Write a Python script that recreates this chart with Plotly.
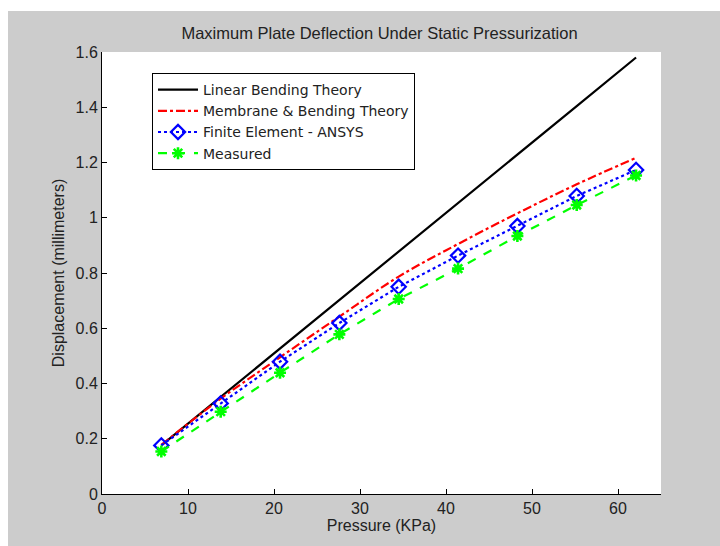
import plotly.graph_objects as go

pressure_kpa = [6.9, 13.8, 20.7, 27.6, 34.5, 41.4, 48.3, 55.2, 62.1]
linear_bending = [0.176, 0.351, 0.527, 0.702, 0.878, 1.053, 1.229, 1.404, 1.580]
membrane_bending = [0.178, 0.345, 0.495, 0.642, 0.787, 0.905, 1.016, 1.121, 1.217]
finite_element = [0.176, 0.328, 0.479, 0.619, 0.750, 0.863, 0.970, 1.079, 1.173]
measured = [0.154, 0.298, 0.439, 0.578, 0.706, 0.816, 0.934, 1.046, 1.153]

x_ticks = [0, 10, 20, 30, 40, 50, 60]
y_ticks = [0, 0.2, 0.4, 0.6, 0.8, 1.0, 1.2, 1.4, 1.6]
y_tick_text = ["0", "0.2", "0.4", "0.6", "0.8", "1", "1.2", "1.4", "1.6"]

FONT = "Liberation Sans, Arial, sans-serif"
LEG_FONT = "DejaVu Sans, Liberation Sans, sans-serif"
TXT = "#222222"

fig = go.Figure()
fig.add_trace(go.Scatter(x=pressure_kpa, y=linear_bending, mode="lines",
                         name="Linear Bending Theory",
                         line=dict(color="black", width=2.2)))
fig.add_trace(go.Scatter(x=pressure_kpa, y=membrane_bending, mode="lines",
                         name="Membrane & Bending Theory", line_shape="spline",
                         line=dict(color="#ff0000", width=2.2, dash="dashdot")))
fig.add_trace(go.Scatter(x=pressure_kpa, y=finite_element, mode="lines+markers",
                         name="Finite Element - ANSYS",
                         line=dict(color="#0000ff", width=2.2, dash="dot"),
                         marker=dict(symbol="diamond-open", size=11, color="#0000ff",
                                     line=dict(width=2.2, color="#0000ff"))))
fig.add_trace(go.Scatter(x=pressure_kpa, y=measured, mode="lines+markers",
                         name="Measured",
                         line=dict(color="#00ff00", width=2.2, dash="dash"),
                         marker=dict(symbol="asterisk-open", size=10, color="#00ff00",
                                     line=dict(width=2.6, color="#00ff00"))))

L, R, T, B = 102, 59, 52, 52
W, H = 720, 546
pw, ph = W - L - R, H - T - B

def px_x(p):
    return (p - L) / pw

def px_y(p):
    return (H - B - p) / ph

shapes = [
    dict(type="rect", xref="paper", yref="paper", x0=px_x(-2), x1=px_x(722),
         y0=px_y(11), y1=px_y(-2), fillcolor="white", line=dict(width=0), layer="below"),
    dict(type="rect", xref="paper", yref="paper", x0=px_x(-2), x1=px_x(8),
         y0=px_y(548), y1=px_y(-2), fillcolor="white", line=dict(width=0), layer="below"),
]

fig.update_layout(
    width=W, height=H,
    margin=dict(l=L, r=R, t=T, b=B, autoexpand=False),
    paper_bgcolor="#cccccc",
    plot_bgcolor="white",
    font=dict(family=FONT, size=16, color=TXT),
    title=dict(text="Maximum Plate Deflection Under Static Pressurization",
               x=(177 + 582) / 2 / W, xanchor="center", y=1 - 33 / H, yanchor="middle",
               font=dict(size=16.5, color=TXT)),
    shapes=shapes,
    showlegend=True,
    legend=dict(x=px_x(152), y=px_y(73), xanchor="left", yanchor="top",
                bgcolor="white", bordercolor="black", borderwidth=1,
                itemwidth=40, entrywidth=254, entrywidthmode="pixels",
                font=dict(family=LEG_FONT, size=14, color=TXT), tracegroupgap=0),
    xaxis=dict(range=[0, 65], tickvals=x_ticks, ticks="inside", ticklen=5,
               tickcolor="black", showline=True, linecolor="black", linewidth=1,
               showgrid=False, zeroline=False, mirror=False, automargin=False,
               tickfont=dict(size=16, color=TXT),
               title=dict(text="Pressure (KPa)", standoff=2, font=dict(size=16, color=TXT))),
    yaxis=dict(range=[0, 1.6], tickvals=y_ticks, ticktext=y_tick_text, ticks="inside",
               ticklen=5, tickcolor="black", showline=True, linecolor="black", linewidth=1,
               showgrid=False, zeroline=False, mirror=False, automargin=False,
               tickfont=dict(size=16, color=TXT),
               title=dict(text="Displacement (millimeters)", standoff=6,
                          font=dict(size=16, color=TXT))),
)

fig.write_html("out.html", config={"displayModeBar": False},
               post_script="document.body.style.margin='0';")
